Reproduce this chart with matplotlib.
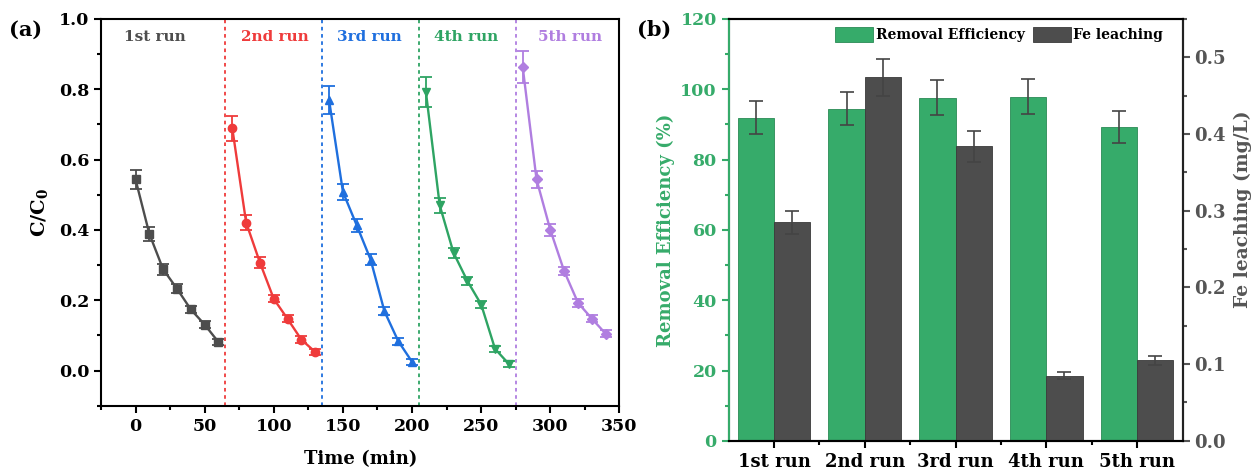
import numpy as np
import matplotlib.pyplot as plt
from matplotlib.ticker import MultipleLocator

plt.rcParams['font.family'] = ['DejaVu Serif']
plt.rcParams['font.weight'] = 'bold'
plt.rcParams['mathtext.fontset'] = 'dejavuserif'

# panel (a): C/C0 vs time for 5 runs
t1 = [0, 10, 20, 30, 40, 50, 60]
t2 = [70, 80, 90, 100, 110, 120, 130]
t3 = [140, 150, 160, 170, 180, 190, 200]
t4 = [210, 220, 230, 240, 250, 260, 270]
t5 = [280, 290, 300, 310, 320, 330, 340]
c1 = [0.544, 0.389, 0.288, 0.233, 0.174, 0.131, 0.081]
c2 = [0.689, 0.421, 0.307, 0.204, 0.147, 0.088, 0.053]
c3 = [0.769, 0.508, 0.413, 0.316, 0.169, 0.084, 0.025]
c4 = [0.793, 0.470, 0.335, 0.255, 0.188, 0.062, 0.019]
c5 = [0.864, 0.544, 0.400, 0.283, 0.193, 0.148, 0.105]
e1 = [0.027, 0.020, 0.015, 0.012, 0.010, 0.010, 0.008]
e2 = [0.035, 0.022, 0.015, 0.010, 0.010, 0.010, 0.008]
e3 = [0.040, 0.022, 0.018, 0.015, 0.012, 0.010, 0.008]
e4 = [0.042, 0.022, 0.015, 0.012, 0.010, 0.008, 0.008]
e5 = [0.046, 0.025, 0.018, 0.012, 0.012, 0.010, 0.010]
run_sep = [65, 135, 205, 275]

# panel (b): removal efficiency and Fe leaching
runs = ['1st run', '2nd run', '3rd run', '4th run', '5th run']
removal = [91.9, 94.5, 97.6, 97.9, 89.2]
removal_err = [4.7, 4.7, 5.0, 4.9, 4.5]
fe = [0.285, 0.474, 0.384, 0.085, 0.105]
fe_err = [0.015, 0.024, 0.020, 0.005, 0.006]

cols = ['#4d4d4d', '#ef3b3b', '#1f6fde', '#2ea463', '#b07ee0']
markers = ['s', 'o', '^', 'v', 'D']

fig = plt.figure(figsize=(12.54, 4.73), dpi=100)
ax = fig.add_axes([0.0805, 0.142, 0.4135, 0.818])

series = [(t1, c1, e1), (t2, c2, e2), (t3, c3, e3), (t4, c4, e4), (t5, c5, e5)]
for i, (t, c, e) in enumerate(series):
    ax.errorbar(t, c, yerr=e, color=cols[i], marker=markers[i], ms=6 if i != 4 else 5,
                lw=1.7, capsize=4, elinewidth=1.3, capthick=1.3)
for i, xs in enumerate(run_sep):
    ax.axvline(xs, color=cols[i + 1], ls=(0, (2, 2)), lw=1.3)

label_x = [14, 101, 169, 239, 314]
for i in range(5):
    ax.text(label_x[i], 0.948, runs[i], color=cols[i], ha='center', va='center',
            fontsize=11, fontweight='bold')

ax.set_xlim(-25, 350)
ax.set_ylim(-0.1, 1.0)
ax.xaxis.set_major_locator(MultipleLocator(50))
ax.xaxis.set_minor_locator(MultipleLocator(25))
ax.yaxis.set_major_locator(MultipleLocator(0.2))
ax.yaxis.set_minor_locator(MultipleLocator(0.1))
ax.tick_params(which='both', direction='out', labelsize=12.5, width=1.5)
ax.tick_params(which='major', length=5)
ax.tick_params(which='minor', length=3)
ax.set_xlabel('Time (min)', fontsize=13, fontweight='bold', labelpad=11)
ax.set_ylabel('C/C$_\\mathbf{0}$', fontsize=14, fontweight='bold', labelpad=6)
for sp in ax.spines.values():
    sp.set_linewidth(1.5)
fig.text(0.007, 0.925, '(a)', fontsize=15, fontweight='bold')

# panel (b)
bx = fig.add_axes([0.581, 0.068, 0.362, 0.892])
x = np.arange(len(runs))
w = 0.4
bx.bar(x - w / 2, removal, w, yerr=removal_err, color='#36ab6a', edgecolor='#2a8a55',
       lw=0.6, capsize=5, error_kw=dict(ecolor='#444444', elinewidth=1.2, capthick=1.2),
       label='Removal Efficiency')
bx2 = bx.twinx()
bx2.bar(x + w / 2, fe, w, yerr=fe_err, color='#4d4d4d', edgecolor='#3a3a3a',
        lw=0.6, capsize=5, error_kw=dict(ecolor='#444444', elinewidth=1.2, capthick=1.2),
        label='Fe leaching')

bx.set_xlim(-0.5, 4.5)
bx.set_ylim(0, 120)
bx2.set_ylim(0, 0.55)
bx.set_xticks(x)
bx.set_xticklabels(runs, fontsize=13, fontweight='bold')
bx.set_xticks(x[:-1] + 0.5, minor=True)
bx.yaxis.set_major_locator(MultipleLocator(20))
bx.yaxis.set_minor_locator(MultipleLocator(10))
bx2.yaxis.set_major_locator(MultipleLocator(0.1))
bx2.yaxis.set_minor_locator(MultipleLocator(0.05))
green = '#36ab6a'
gray = '#555555'
bx.tick_params(axis='y', which='both', colors=green, labelsize=12.5, width=1.5)
bx.tick_params(axis='x', which='both', labelsize=13, width=1.5)
bx2.tick_params(axis='y', which='both', colors=gray, labelsize=13, width=1.5)
for a in (bx, bx2):
    a.tick_params(which='major', length=5)
    a.tick_params(which='minor', length=3)
bx.set_ylabel('Removal Efficiency (%)', color=green, fontsize=13, fontweight='bold', labelpad=4)
bx2.set_ylabel('Fe leaching (mg/L)', color=gray, fontsize=13.5, fontweight='bold', labelpad=6)
bx2.yaxis.set_label_coords(1.113, 0.55)
for a in (bx, bx2):
    for sp in a.spines.values():
        sp.set_linewidth(1.5)
bx2.spines['left'].set_color(green)
bx2.spines['right'].set_color('#222222')

h1, l1 = bx.get_legend_handles_labels()
h2, l2 = bx2.get_legend_handles_labels()
bx2.legend(h1 + h2, l1 + l2, loc='upper right', ncol=2, frameon=False,
           handlelength=2.7, handleheight=1.3, columnspacing=0.6,
           handletextpad=0.2, bbox_to_anchor=(0.985, 1.01),
           prop=dict(weight='bold', size=10))
fig.text(0.508, 0.925, '(b)', fontsize=15, fontweight='bold')

fig.savefig('out.png', dpi=100)
